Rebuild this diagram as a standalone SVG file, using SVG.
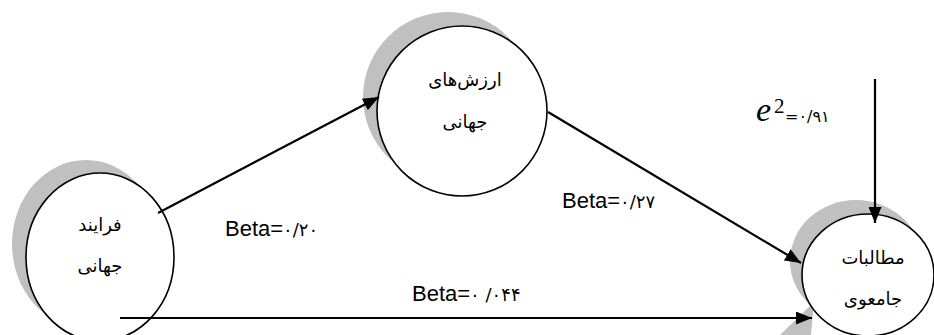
<svg xmlns="http://www.w3.org/2000/svg" width="934" height="335" viewBox="0 0 934 335">
<defs>
<style>
.shadow{fill:#c0c0c0;stroke:none}
.node{fill:#ffffff;stroke:#000;stroke-width:1.6}
.fa{font-family:"DejaVu Sans",sans-serif;font-size:18px;fill:#000;text-anchor:middle}
.lbl{font-family:"Liberation Sans","DejaVu Sans",sans-serif;font-size:22px;fill:#000}
.dg{font-family:"DejaVu Sans",sans-serif;font-size:18px}
.conn{stroke:#000;stroke-width:2.2;fill:none;marker-end:url(#arr)}
</style>
<marker id="arr" markerUnits="userSpaceOnUse" markerWidth="16" markerHeight="13" refX="16" refY="6.5" orient="auto">
<path d="M0,0 L16,6.5 L0,13 z" fill="#000"/>
</marker>
</defs>
<rect width="934" height="335" fill="#fff"/>
<g id="node-farayand">
<ellipse class="shadow" cx="86" cy="244" rx="74" ry="84"/>
<ellipse class="node" cx="100" cy="257" rx="74" ry="84"/>
<text class="fa" x="100" y="231">فرايند</text>
<text class="fa" x="100" y="272">جهانی</text>
</g>
<g id="node-arzesh">
<ellipse class="shadow" cx="448" cy="97" rx="85" ry="85"/>
<ellipse class="node" cx="462" cy="111" rx="85" ry="85"/>
<text class="fa" x="465" y="86">ارزش‌های</text>
<text class="fa" x="465" y="128">جهانی</text>
</g>
<g id="node-motalebat">
<ellipse class="shadow" cx="856" cy="261" rx="66" ry="61"/>
<polygon class="shadow" points="814,302 811,335 780,335"/>
<ellipse class="node" cx="868" cy="275" rx="66" ry="61"/>
<text class="fa" x="873" y="264">مطالبات</text>
<text class="fa" x="873" y="305">جامعوی</text>
</g>
<g id="connectors">
<line class="conn" x1="158" y1="213" x2="379" y2="97"/>
<line class="conn" x1="548" y1="112" x2="801" y2="263"/>
<line class="conn" x1="120" y1="318" x2="812" y2="318"/>
<line class="conn" x1="875" y1="79" x2="875" y2="223"/>
</g>
<g id="labels">
<text class="lbl" x="225" y="236">Beta=<tspan class="dg">۰/۲۰</tspan></text>
<text class="lbl" x="562" y="208">Beta=<tspan class="dg">۰/۲۷</tspan></text>
<text class="lbl" x="412" y="301">Beta=<tspan class="dg">۰ /۰۴۴</tspan></text>
<text x="756" y="121" font-family="Liberation Serif,serif" font-style="italic" font-size="34">e</text>
<text x="774" y="113" font-family="Liberation Serif,serif" font-size="21">2</text>
<text x="785" y="122" font-family="DejaVu Sans,sans-serif" font-size="16">=۰/۹۱</text>
</g>
</svg>
